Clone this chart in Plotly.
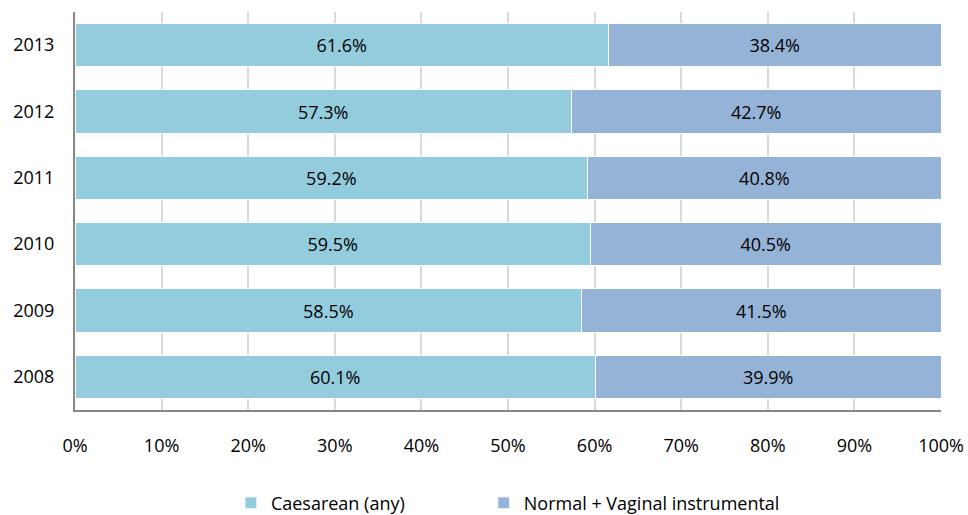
import plotly.graph_objects as go

years = ["2008", "2009", "2010", "2011", "2012", "2013"]
caesarean = [60.1, 58.5, 59.5, 59.2, 57.3, 61.6]
normal_vaginal = [39.9, 41.5, 40.5, 40.8, 42.7, 38.4]

FONT = "'Open Sans', sans-serif"

fig = go.Figure()
fig.add_trace(
    go.Bar(
        y=years,
        x=caesarean,
        orientation="h",
        name="Caesarean (any)",
        marker=dict(color="#93CDDD", line=dict(color="white", width=1)),
        texttemplate="%{x:.1f}%",
        textposition="inside",
        insidetextanchor="middle",
        textfont=dict(color="black", size=18, family=FONT),
        legend="legend",
        showlegend=True,
    )
)
fig.add_trace(
    go.Bar(
        y=years,
        x=normal_vaginal,
        orientation="h",
        name="Normal + Vaginal instrumental",
        marker=dict(color="#95B3D7", line=dict(color="white", width=1)),
        texttemplate="%{x:.1f}%",
        textposition="inside",
        insidetextanchor="middle",
        textfont=dict(color="black", size=18, family=FONT),
        legend="legend2",
        showlegend=True,
    )
)

fig.update_xaxes(
    range=[0, 100],
    dtick=10,
    ticksuffix="%",
    showgrid=True,
    gridcolor="#D9D9D9",
    gridwidth=1.5,
    zeroline=False,
    showline=True,
    linecolor="#868686",
    linewidth=2,
    ticks="",
    ticklabelstandoff=18,
    automargin=False,
    tickfont=dict(size=18, color="black", family=FONT),
    fixedrange=True,
)
fig.update_yaxes(
    showline=True,
    linecolor="#868686",
    linewidth=2,
    showgrid=False,
    ticks="",
    ticklabelstandoff=15,
    automargin=False,
    tickfont=dict(size=18, color="black", family=FONT),
    fixedrange=True,
)

legend_style = dict(
    orientation="h",
    y=-0.234,
    yanchor="middle",
    xanchor="left",
    font=dict(size=18, color="black", family=FONT),
    itemwidth=30,
)

# figure is a bit taller than the window so the legend never pushes the margins;
# the spare strip below 515px is simply off-screen
fig.update_layout(
    barmode="stack",
    bargap=0.35,
    width=968,
    height=540,
    showlegend=True,
    plot_bgcolor="white",
    paper_bgcolor="white",
    margin=dict(t=12, l=75, b=130, r=27),
    uniformtext=dict(mode="show", minsize=18),
    legend=dict(x=0.18, **legend_style),
    legend2=dict(x=0.472, **legend_style),
)

fig.write_html(
    "out.html",
    config={"displayModeBar": False},
    post_script="document.body.style.margin='0';document.body.style.overflow='hidden';",
)
